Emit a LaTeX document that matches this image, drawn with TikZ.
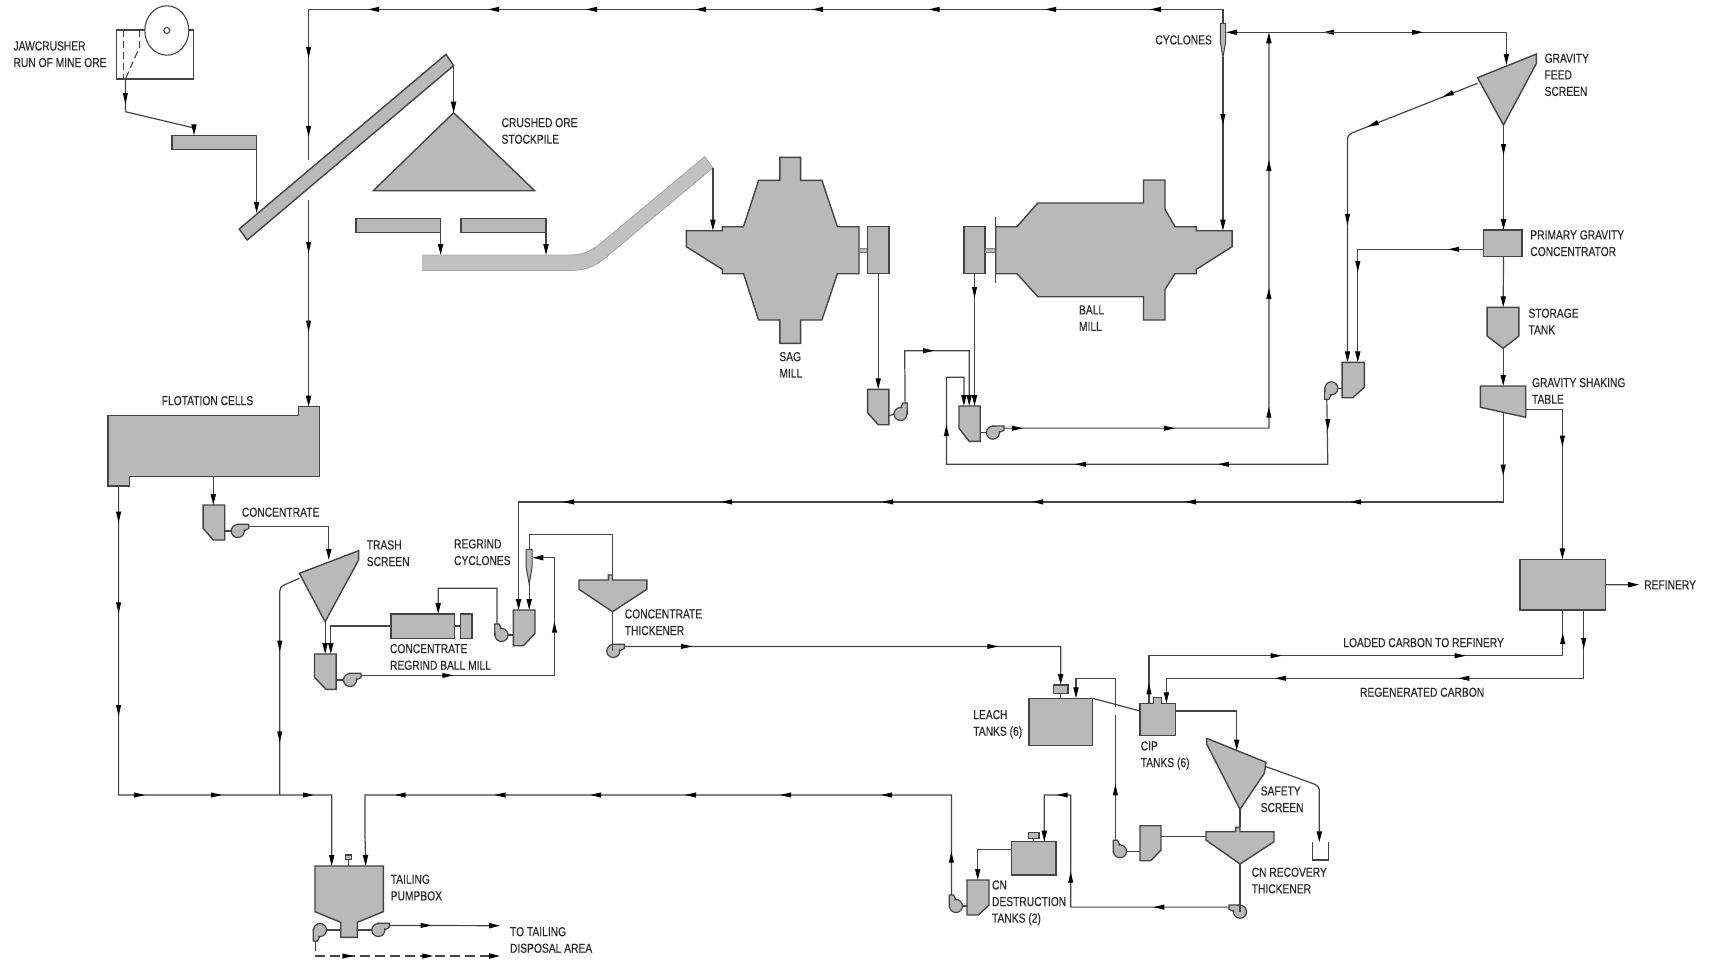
\documentclass[tikz,border=0pt]{standalone}
\usepackage{fontspec}
\setmainfont[FakeStretch=0.79,FakeBold=0.25]{Liberation Sans}
\usetikzlibrary{arrows.meta}
\definecolor{eqC}{HTML}{B9B9B9}
\definecolor{liC}{HTML}{444444}
\definecolor{txC}{HTML}{2A2A2A}
\definecolor{beltC}{HTML}{C2C2C2}
\tikzset{
 equip/.style={draw=liC,fill=eqC,line width=1.4pt,line join=miter},
 box/.style={equip,anchor=north west,inner sep=0pt,outer sep=0pt},
 flow/.style={draw=liC,line width=1.2pt},
 tip/.style={-{Stealth[length=11pt,width=5.2pt,inset=0pt,color=black]}},
 lbl/.style={anchor=north west,inner sep=0pt,outer sep=0pt,align=left,text=txC,font=\fontsize{13}{16.6}\selectfont},
 pump/.pic={
  \draw[equip,line width=1.2pt] (0,-6.8) -- (11,-6.8) -- (11,-2.5) -- (6,0) -- cycle;
  \draw[equip,line width=1.2pt] (0,0) circle [radius=6.5];
  \fill[eqC] (0.5,-5.8) -- (10,-5.8) -- (10,-3.2) -- (4,-1) -- cycle;
  \coordinate (-out) at (11,-4.6);
  \coordinate (-w) at (-6.5,0);
  \coordinate (-s) at (0,6.5);
 }
}
\newcommand\ah[3]{\fill[black,shift={(#1,#2)},rotate=#3] (0,0) -- (-11,2.6) -- (-11,-2.6) -- cycle;}
\newcommand\ahR[2]{\ah{#1}{#2}{0}}
\newcommand\ahU[2]{\ah{#1}{#2}{90}}
\newcommand\ahL[2]{\ah{#1}{#2}{180}}
\newcommand\ahD[2]{\ah{#1}{#2}{270}}
\newcommand\eqbox[5]{\node[box,minimum width={#4-#2},minimum height={#5-#3}] (#1) at (#2,#3) {};}
\newcommand\lab[4]{\node[lbl] (#1) at (#2,{#3-4.65}) {#4};}
\begin{document}
\begin{tikzpicture}[x=1pt,y=-1pt]
\useasboundingbox (0,0) rectangle (1710,961);
\fill[white] (0,0) rectangle (1710,961);

% ---------- crusher and ore handling
\node[box,draw=liC,fill=white,line width=1.1pt,minimum width=77.1,minimum height=49] (crusher) at (116.3,30) {};
\draw[liC,line width=1.1pt,dash pattern=on 7pt off 4pt] (123.6,30) -- (123.6,79);
\draw[liC,line width=1.1pt,dash pattern=on 7pt off 4pt] (139.6,30) -- (139.6,47) -- (125.4,79);
\draw[liC,line width=1.1pt,fill=white] (166.8,30.5) ellipse [x radius=22,y radius=24.7];
\draw[liC,line width=1.1pt] (166.8,30.5) circle [radius=3];
\coordinate (crOut) at (125.4,79);
\eqbox{feeder1}{172}{135.3}{256.6}{149.3}
\coordinate (f1in) at (194,135.3);
\draw[equip] (446,54.3) coordinate (c1a) -- (453.6,65.7) coordinate (conv1out) -- (247.2,240) -- (239.2,229) -- cycle;
\coordinate (conv1in) at (256.6,213);
\draw[equip] (453.6,112.7) coordinate (pileTop) -- (534.7,190.7) -- (373.3,190.7) -- cycle;
\eqbox{feeder2}{355.9}{218.3}{440.6}{232.7}
\eqbox{feeder3}{460.9}{218.3}{546}{232.7}
\draw[draw=beltC!85!black,fill=beltC,line width=.8pt] (422.8,255) coordinate (bl) -- (570,255) .. controls (582,255) and (590,251.5) .. (598.6,245) -- (704.7,156.7) -- (712.9,167.7) coordinate (conv2out) -- (611,253) .. controls (598,265) and (588,270.5) .. (570,270.5) -- (422.8,270.5) -- cycle;
\coordinate (conv2a) at (440.6,255);
\coordinate (conv2b) at (546,255);

% ---------- mills
\draw[equip] (686.3,230.7) -- (722.3,230.7) -- (722.3,226.7) -- (743.5,226.7) -- (758.6,180.3) -- (779.8,180.3) -- (779.8,157.3) -- (800.6,157.3) -- (800.6,180.3) -- (821.9,180.3) -- (837.4,226.7) -- (859,226.7) -- (859,273.7) -- (837.4,273.7) -- (821.9,320) -- (800.6,320) -- (800.6,343.3) -- (779.8,343.3) -- (779.8,320) -- (758.6,320) -- (743.5,273.7) -- (722.3,273.7) -- (722.3,269.3) -- (686.3,246.7) -- cycle;
\coordinate (sagIn) at (712.9,230.7);
\draw[equip,line width=1pt,draw=liC!70] (859,248.7) rectangle (867.6,252.7);
\eqbox{sagbox}{867.6}{226.7}{888.8}{273.7}
\eqbox{ballbox}{963.9}{226.7}{985.1}{273.7}
\draw[equip,line width=1pt,draw=liC!70] (985.1,248.7) rectangle (995.7,252.7);
\draw[equip] (995.7,226.7) -- (1017,226.7) -- (1037.8,203) -- (1143.5,203) -- (1143.5,180) -- (1165,180) -- (1165,209.3) -- (1175,226.7) -- (1196.4,226.7) -- (1196.4,230.7) -- (1232.1,230.7) -- (1232.1,246.7) -- (1196.4,269.3) -- (1196.4,273.7) -- (1175,273.7) -- (1165,289.3) -- (1165,320) -- (1143.5,320) -- (1143.5,296.7) -- (1037.8,296.7) -- (1017,273.7) -- (995.7,273.7) -- cycle;
\draw[liC,line width=1.2pt] (995.7,217.3) -- (995.7,282.7);
\coordinate (ballIn) at (1222.9,230.7);

% ---------- sumps and pumps of the grinding circuit
\draw[equip] (867.6,389.3) coordinate (s1a) -- (888.8,389.3) -- (888.8,424.7) -- (878.2,424.7) -- (867.6,412.7) -- cycle;
\coordinate (s1top) at (878.2,389.3);
\coordinate (s1e) at (888.8,416);
\pic[xscale=-1,rotate=90] (p1) at (900.5,414) {pump};
\draw[equip] (959,406) -- (980.2,406) -- (980.2,441.3) -- (969.2,441.3) -- (959,428.3) -- cycle;
\coordinate (s2a) at (963.9,406);
\coordinate (s2b) at (969.2,406);
\coordinate (s2c) at (974.5,406);
\coordinate (s2e) at (980.2,432.7);
\pic (p2) at (992.9,432.7) {pump};

% ---------- cyclones
\draw[equip,line width=1pt] (1220.3,23.3) -- (1225.7,23.3) -- (1225.7,41.7) -- (1222.9,57.3) -- (1220.3,41.7) -- cycle;
\coordinate (cyTop) at (1222.9,23.3);
\coordinate (cyBot) at (1222.9,57.3);
\coordinate (cyIn) at (1226,32.3);

% ---------- gravity circuit
\draw[equip] (1477.5,77.7) -- (1536.4,54) -- (1536.4,63.3) -- (1503.5,125) coordinate (gfsBot) -- cycle;
\coordinate (gfsIn) at (1506.4,65);
\coordinate (gfsOver) at (1477.5,83.3);
\eqbox{pgc}{1483.5}{230}{1522.1}{256.7}
\coordinate (pgcIn) at (1503.5,230);
\coordinate (pgcL) at (1483.5,249.3);
\coordinate (pgcB) at (1503.5,256.7);
\draw[equip] (1487.1,307.3) -- (1518.9,307.3) -- (1518.9,336) -- (1503.2,348.3) coordinate (stBot) -- (1487.1,336) -- cycle;
\coordinate (stTop) at (1503.2,307.3);
\draw[equip] (1480.3,386) -- (1525.7,386) -- (1525.7,417.3) -- (1480.3,407.3) -- cycle;
\coordinate (tabTop) at (1503.2,386);
\coordinate (tabBot) at (1503.2,412.5);
\coordinate (tabR) at (1525.7,409.3);
\draw[equip] (1342.1,362.3) -- (1364.3,362.3) -- (1364.3,387.3) -- (1352.8,397.7) -- (1342.1,397.7) -- cycle;
\coordinate (s3a) at (1347.5,362.3);
\coordinate (s3b) at (1357.8,362.3);
\coordinate (s3w) at (1342.1,388.3);
\pic[yscale=-1,rotate=90] (p3) at (1331.4,388.3) {pump};
\eqbox{refinery}{1520}{559.3}{1605.3}{610}
\coordinate (refTop) at (1562.4,559.3);
\coordinate (refOut) at (1639.2,584.7);
\coordinate (refBa) at (1562.7,610);
\coordinate (refBb) at (1583.7,610);

% ---------- flotation and regrind
\draw[equip] (108,415.7) -- (298.3,415.7) -- (298.3,406.7) -- (319.3,406.7) -- (319.3,476.7) -- (129.3,476.7) -- (129.3,486) -- (108,486) -- cycle;
\coordinate (flIn) at (308.6,406.7);
\coordinate (flOut) at (118.6,486);
\coordinate (flCon) at (213.3,476.7);
\draw[equip] (203.1,505) -- (224.7,505) -- (224.7,540) -- (213.3,540) -- (203.1,528.3) -- cycle;
\coordinate (sAtop) at (213.3,505);
\coordinate (sAe) at (224.7,531);
\pic (pA) at (237.8,531) {pump};
\draw[equip] (299.4,573.3) -- (358.6,550.7) -- (358.6,560) -- (325.1,621.7) coordinate (tsBot) -- cycle;
\coordinate (tsIn) at (328.8,560);
\coordinate (tsOver) at (299.4,578.3);
\draw[equip] (314.5,654) -- (336.1,654) -- (336.1,689.3) -- (326,689.3) -- (314.5,677.3) -- cycle;
\coordinate (sBa) at (325.1,654);
\coordinate (sBb) at (330.8,654);
\coordinate (sBe) at (336.1,680);
\pic (pB) at (350,680) {pump};
\eqbox{regmill}{390.8}{614}{454.5}{638.3}
\eqbox{regend}{460.7}{614}{472.1}{638.3}
\coordinate (rmIn) at (438.2,614);
\coordinate (rmW) at (390.8,626);
\draw[equip] (513.3,610) -- (535,610) -- (535,633.3) -- (523.5,645.7) -- (513.3,645.7) -- cycle;
\coordinate (s4a) at (518.6,610);
\coordinate (s4b) at (529.2,610);
\coordinate (s4w) at (513.3,635);
\pic[rotate=90] (p4) at (501.5,635) {pump};
\draw[equip,line width=1pt] (526,549.3) -- (532.1,549.3) -- (532.1,566.7) -- (529.2,584) coordinate (rcBot) -- (526,566.7) -- cycle;
\coordinate (rcTop) at (529.2,549.3);
\coordinate (rcIn) at (532.4,557.7);
\draw[equip] (579,580) -- (608.4,580) -- (608.4,575) -- (612.5,575) coordinate (ctTop) -- (612.5,580) -- (646.8,580) -- (646.8,589.3) -- (612.5,611.7) coordinate (ctBot) -- (579,589.3) -- cycle;
\pic (pT) at (613.3,651) {pump};

% ---------- CIL / CIP
\eqbox{leach}{1029}{698.3}{1092.7}{745.3}
\eqbox{agit}{1053.3}{685}{1068}{693.7}
\coordinate (lchTopB) at (1076,698.3);
\coordinate (lchNE) at (1092.7,698.3);
\draw[equip] (1140,703.3) -- (1153.3,703.3) -- (1153.3,697.3) -- (1161.7,697.3) -- (1161.7,703.3) -- (1175.7,703.3) -- (1175.7,735.7) -- (1140,735.7) -- cycle;
\coordinate (cipLoad) at (1149,703.3);
\coordinate (cipReg) at (1166.4,703.3);
\coordinate (cipW) at (1140,711);
\coordinate (cipE) at (1175.7,711);
\draw[equip] (1206.7,738.3) -- (1266,762.3) -- (1264.3,773.3) -- (1240,809.3) coordinate (ssBot) -- (1206.7,744) -- cycle;
\coordinate (ssIn) at (1236.7,750.5);
\coordinate (ssOver) at (1266,766.7);
\draw[equip] (1206,831.7) -- (1235.7,831.7) -- (1235.7,827.3) -- (1240,827.3) coordinate (crTop) -- (1240,831.7) -- (1274,831.7) -- (1274,841.7) -- (1240,864) coordinate (crBot) -- (1206,840) -- cycle;
\coordinate (crW) at (1206,836.7);
\draw[equip] (1140,825.7) -- (1161,825.7) -- (1161,850) -- (1150.7,860.7) -- (1140,860.7) -- cycle;
\coordinate (sCe) at (1161,836.7);
\coordinate (sCw) at (1140,851.3);
\pic[rotate=90] (pC) at (1120,851.3) {pump};
\draw[liC,line width=1.2pt] (1312.3,842.3) coordinate (bkA) -- (1312.3,860) -- (1328.3,860) -- (1328.3,842.3);
\coordinate (bkIn) at (1319.3,842.3);
\pic[xscale=-1] (pR) at (1240,911.7) {pump};
\eqbox{cnd}{1011.3}{841.7}{1056}{875}
\eqbox{cndtop}{1028.7}{832.7}{1039}{838.7}
\coordinate (cndIn) at (1044.3,841.7);
\coordinate (cndW) at (1011.3,849.7);
\draw[equip] (967,880) -- (989,880) -- (989,905) -- (978.3,915) -- (967,915) -- cycle;
\coordinate (sDtop) at (977.7,880);
\coordinate (sDw) at (967,906);
\pic[rotate=90] (pD) at (956,906) {pump};

% ---------- tailing
\draw[equip] (315,866) -- (383.3,866) -- (383.3,911.7) -- (357.3,922.3) -- (357.3,937.3) -- (340.7,937.3) -- (340.7,922.3) -- (315,911.7) -- cycle;
\coordinate (taA) at (331.7,866);
\coordinate (taB) at (365.7,866);
\coordinate (taL) at (340.7,930);
\coordinate (taR) at (357.3,930);
\eqbox{taMix}{345.7}{855}{351.7}{859.3}
\pic[yscale=-1,rotate=90] (pTL) at (320,930) {pump};
\pic (pTR) at (378.3,930) {pump};
\coordinate (disp1) at (500,925.7);
\coordinate (disp2) at (500,956);

% ---------- connectors
\draw[flow,tip] (crOut) -- (125.4,111.7) -- (194,128) -- (f1in);
\ahD{125.4}{104}
\draw[flow,tip] (feeder1.south east) -- (conv1in);
\draw[flow,tip] (conv1out) -- (pileTop);
\draw[flow,tip] (feeder2.south east) -- (conv2a);
\draw[flow,tip] (feeder3.south east) -- (conv2b);
\draw[flow,tip] (conv2out) -- (sagIn);
\draw[flow,tip] (sagbox.south) -- (s1top);
\draw[flow,tip] (ballbox.south -| s2c) -- (s2c);
\ahD{974.5}{298}
\draw[flow] (s1e) -- (p1-s);
\draw[flow,tip] (p1-out) -- (904.7,350.7) -- (969.2,350.7) -- (s2b);
\ahR{934}{350.7}
\draw[flow] (s2e) -- (p2-w);
\draw[flow,tip] (p2-out) -- (1268.9,428.1) -- (1268.9,32.3) coordinate (jct);
\ahR{1023}{428.2}
\ahR{1175}{428.2}
\ahU{1268.9}{406.7}
\ahU{1268.9}{288}
\ahU{1268.9}{160}
% cyclone overflow and underflow
\draw[flow] (cyTop) -- (1222.9,9.4) -- (308.6,9.4) -- (308.6,160) coordinate (gapA);
\foreach \x in {368,488,586,695,812,928.5,1045,1150} {\ahL{\x}{9.4}}
\ahD{308.6}{58}
\ahD{308.6}{137}
\coordinate (gapB) at (308.6,200);
\draw[flow,tip] (gapB) -- (flIn);
\ahD{308.6}{253}
\ahD{308.6}{331.7}
\draw[flow,tip] (cyBot) -- (ballIn);
\ahD{1222.9}{125}
% feed to screen and cyclones
\draw[flow,tip] (jct) -- (cyIn);
\ahL{1323}{32.3}
\draw[flow,tip] (jct) -- (1506.4,32.3) -- (gfsIn);
\ahR{1423.2}{32.3}
\draw[flow,tip] (gfsOver) -- (1353.5,132.3) .. controls (1349.5,134) and (1347.5,135.5) .. (1347.5,140) -- (s3a);
\ah{1442.8}{96.7}{201.6}
\ah{1367.8}{126.6}{201.6}
\ahD{1347.5}{225}
\draw[flow,tip] (gfsBot) -- (pgcIn);
\ahD{1503.5}{155}
\draw[flow,tip] (pgcL) -- (1357.8,249.3) -- (s3b);
\ahL{1448.2}{249.3}
\ahD{1357.8}{272}
\draw[flow,tip] (pgcB) -- (stTop);
\draw[flow,tip] (stBot) -- (tabTop);
\draw[flow] (s3w) -- (p3-s);
\draw[flow,tip] (p3-out) -- (1327.8,464.3) -- (946.4,464.3) -- (946.4,377.3) -- (963.9,377.3) -- (s2a);
\ahD{1327.8}{430}
\ahL{1217.8}{464.3}
\ahL{1075}{464.3}
\ahU{946.4}{425}
\draw[flow,tip] (tabBot) -- (1503.2,501.9) -- (518.6,501.9) -- (s4a);
\ahD{1503.2}{475.7}
\foreach \x in {563,721,882,1032,1185,1350} {\ahL{\x}{501.9}}
\draw[flow,tip] (tabR) -- (1562.4,409.3) -- (refTop);
\ahD{1562.4}{446.7}
\draw[flow,tip] (refinery.east) -- (refOut);
% flotation
\draw[flow,tip] (flCon) -- (sAtop);
\draw[flow] (sAe) -- (pA-w);
\draw[flow,tip] (pA-out) -- (328.8,526.4) -- (tsIn);
\draw[flow,tip] (flOut) -- (118.6,795) -- (331.8,795) -- (taA);
\ahD{118.6}{522.7}
\ahD{118.6}{613.3}
\ahD{118.6}{716}
\foreach \x in {145,222,314} {\ahR{\x}{795}}
\draw[flow] (tsOver) -- (284,585) .. controls (281,586.2) and (279.8,588) .. (279.8,591) -- (279.8,795);
\ahD{279.8}{651.7}
\ahD{279.8}{742.3}
\draw[flow,tip] (tsBot) -- (sBa);
\draw[flow,tip] (rmW) -- (330.8,626) -- (sBb);
\draw[flow] (regmill.east |- rmW) -- (regend.west |- rmW);
\draw[flow] (sBe) -- (pB-w);
\draw[flow,tip] (pB-out) -- (554.5,675.4) -- (554.5,557.7) -- (rcIn);
\ahR{453.3}{675.4}
\ahU{554.5}{621.7}
\draw[flow] (s4w) -- (p4-s);
\draw[flow,tip] (p4-out) -- (497,588.3) -- (438.2,588.3) -- (rmIn);
\draw[flow,tip] (rcBot) -- (s4b);
\draw[flow] (rcTop) -- (529.2,534.3) -- (612.5,534.3) -- (ctTop);
\draw[flow] (ctBot) -- (pT-w -| ctBot);
% leach and CIP
\draw[flow,tip] (pT-out) -- (1060.7,646.4) -- (agit.north);
\ahR{692}{646.4}
\ahR{998.3}{646.4}
\draw[flow] (agit.south) -- (leach.north -| agit.south);
\draw[flow] (lchNE) -- (cipW);
\draw[flow] (sCw) -- (pC-s);
\coordinate (g2a) at (1115.4,715);
\draw[flow] (pC-out) -- (g2a);
\ahU{1115.4}{784.3}
\draw[flow,tip] (1115.4,706.7) coordinate (g2b) -- (1115.4,678.3) -- (1076,678.3) -- (lchTopB);
\draw[flow] (cipLoad) -- (1149,655.7) -- (1562.7,655.7) -- (refBa);
\ahU{1149}{683.3}
\ahR{1281.7}{655.7}
\ahR{1465.7}{655.7}
\ahU{1562.7}{633}
\draw[flow,tip] (refBb) -- (1583.7,678.3) -- (1166.4,678.3) -- (cipReg);
\ahD{1583.7}{649}
\ahL{1275}{678.3}
\ahL{1458.3}{678.3}
\draw[flow,tip] (cipE) -- (1236.7,711) -- (ssIn);
\draw[flow,tip] (ssOver) -- (1315,784.3) .. controls (1318,785.8) and (1319.3,787.5) .. (1319.3,791) -- (bkIn);
\draw[flow] (ssBot) -- (crTop);
\draw[flow] (crW) -- (sCe);
\draw[flow] (crBot) -- (pR-w -| crBot);
\draw[flow,tip] (pR-out) -- (1070.7,907.1) -- (1070.7,795) -- (1044.3,795) -- (cndIn);
\ahL{1153.3}{907.1}
\ahU{1070.7}{871.7}
\ahL{1056.7}{795}
\draw[flow] (cndtop.south) -- (cnd.north -| cndtop.south);
\draw[flow,tip] (cndW) -- (977.7,849.7) -- (sDtop);
\draw[flow] (sDw) -- (pD-s);
\draw[flow,tip] (pD-out) -- (951.4,795) -- (364.9,795) -- (364.9,830) -- (taB);
\ahU{951.4}{851.7}
\foreach \x in {394.6,494.5,590,685,780,881} {\ahL{\x}{795}}
% tailing
\draw[flow] (taMix.south) -- (taMix.south |- taA);
\draw[flow] (taL) -- (pTL-s);
\draw[flow] (taR) -- (pTR-w);
\draw[flow,tip] (pTR-out) -- (disp1);
\ahR{431.7}{925.4}
\draw[flow,tip,dash pattern=on 10pt off 5pt] (pTL-out) -- (pTL-out |- disp2) -- (disp2);
\ahR{353.3}{956}
\ahR{433.3}{956}

% ---------- labels
\lab{lJaw}{13.5}{46}{JAWCRUSHER\\RUN OF MINE ORE}
\lab{lPile}{501.6}{122.7}{CRUSHED ORE\\STOCKPILE}
\lab{lSag}{779.4}{356.7}{SAG\\MILL}
\lab{lBall}{1079}{310}{BALL\\MILL}
\lab{lCyc}{1155.4}{40}{CYCLONES}
\lab{lGfs}{1544.6}{58.3}{GRAVITY\\FEED\\SCREEN}
\lab{lPgc}{1530.3}{235}{PRIMARY GRAVITY\\CONCENTRATOR}
\lab{lSt}{1528.5}{313.3}{STORAGE\\TANK}
\lab{lTab}{1532}{382.7}{GRAVITY SHAKING\\TABLE}
\lab{lFl}{161.7}{400.7}{FLOTATION CELLS}
\lab{lCon}{241.9}{512.3}{CONCENTRATE}
\lab{lTs}{366.8}{545}{TRASH\\SCREEN}
\lab{lRc}{454.1}{544}{REGRIND\\CYCLONES}
\lab{lRm}{390}{648.7}{CONCENTRATE\\REGRIND BALL MILL}
\lab{lCt}{624.8}{614}{CONCENTRATE\\THICKENER}
\lab{lRef}{1644.2}{585}{REFINERY}
\lab{lLoad}{1343.3}{642.7}{LOADED CARBON TO REFINERY}
\lab{lReg}{1360}{692.3}{REGENERATED CARBON}
\lab{lLeach}{973.3}{714.7}{LEACH\\TANKS (6)}
\lab{lCip}{1140.7}{746}{CIP\\TANKS (6)}
\lab{lSs}{1260.7}{791}{SAFETY\\SCREEN}
\lab{lCr}{1251.7}{872.3}{CN RECOVERY\\THICKENER}
\lab{lCn}{992}{885}{CN\\DESTRUCTION\\TANKS (2)}
\lab{lTa}{390.7}{879.3}{TAILING\\PUMPBOX}
\lab{lTo}{510}{931.7}{TO TAILING\\DISPOSAL AREA}
\end{tikzpicture}
\end{document}
